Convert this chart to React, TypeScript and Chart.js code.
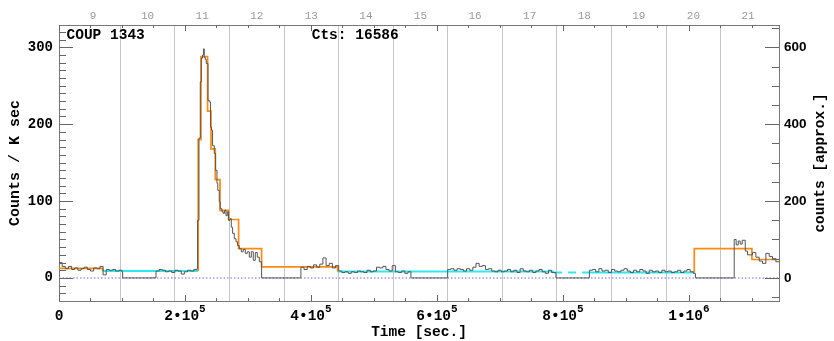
import { useEffect, useRef } from 'react';
import { Chart, registerables } from 'chart.js';

Chart.register(...registerables);

// ---------- texts ----------
const SOURCE_LABEL = 'COUP 1343';
const COUNTS_LABEL = 'Cts: 16586';
const Y_TITLE = 'Counts / K sec';
const Y2_TITLE = 'counts [approx.]';
const X_TITLE = 'Time [sec.]';

// ---------- axis ranges ----------
const T_MIN = 0;
const T_MAX = 1143000;
const RATE_MIN = -30;
const RATE_MAX = 329;
const COUNTS_PER_RATE = 2;
const DAY_MIN = 8.377;
const DAY_MAX = 21.568;

// ---------- tick labels ----------
const xMajorTicks = [0, 200000, 400000, 600000, 800000, 1000000];
const xTickBase = ['0', '2•10', '4•10', '6•10', '8•10', '1•10'];
const xTickExp = ['', '5', '5', '5', '5', '6'];
const yTickLabels = [0, 100, 200, 300];
const y2TickLabels = [0, 200, 400, 600];
const dayLabels = [9, 10, 11, 12, 13, 14, 15, 16, 17, 18, 19, 20, 21];

// ---------- light curve (bin start [s], rate [counts/ksec]) ----------
const curveTime = [
  0, 5000, 10000, 15000, 20000, 25000, 30000, 35000, 40000, 45000, 50000, 55000, 60000, 65000, 70000,
  75000, 80000, 85000, 90000, 95000, 100000, 101000,
  154000, 159000, 164000, 169000, 174000, 179000, 184000, 189000, 194000, 199000, 204000, 209000, 214000, 219000,
  220000, 222200, 224300, 225900, 228000, 229500, 230600, 232200, 233800, 236500, 238600, 240600, 242200,
  243800, 246500, 248600, 250800, 252100, 254400, 256000, 258700, 260800, 262900, 265100, 267100, 269200,
  271400, 273500, 275600, 278300, 281000, 283500, 286200, 289400, 292500, 295700, 298900, 302100, 305200,
  308400, 311600, 314800, 318000, 321600,
  384000, 389000, 394000, 399000, 404000, 409000, 414000, 419000, 424000, 429000, 434000, 439000, 444000,
  449000, 454000, 459000, 464000, 469000, 474000, 479000, 484000, 489000, 494000, 499000, 504000, 509000,
  514000, 519000, 524000, 529000, 534000, 539000, 544000, 549000, 554000, 558700,
  617000, 622000, 627000, 632000, 637000, 642000, 647000, 652000, 657000, 662000, 667000, 672000, 677000,
  682000, 687000, 692000, 697000, 702000, 707000, 712000, 717000, 722000, 727000, 732000, 737000, 742000,
  747000, 752000, 757000, 762000, 767000, 772000, 777000, 782000, 788900,
  842000, 847000, 852000, 857000, 862000, 867000, 872000, 877000, 882000, 887000, 892000, 897000, 902000,
  907000, 912000, 917000, 922000, 927000, 932000, 937000, 942000, 947000, 952000, 957000, 962000, 967000,
  972000, 977000, 982000, 987000, 992000, 997000, 1002000, 1007000, 1010300,
  1071900, 1075000, 1078300, 1081400, 1084600, 1089400, 1093000, 1101000, 1106300, 1111600, 1116800,
  1122200, 1127500, 1132700, 1138000,
];
const curveRate = [
  20, 15, 12, 15, 11, 13, 10, 12, 14, 11, 9, 13, 12, 15, 4,
  11, 10, 11, 9, 10, 8, 0,
  9, 11, 10, 8, 9, 7, 10, 9, 5, 8, 10, 9, 11, 12,
  75, 182, 255, 286, 290, 298, 287, 284, 279, 231, 229, 196, 192,
  172, 162, 140, 123, 114, 99, 90, 86, 84, 88, 81, 86, 75,
  77, 66, 58, 51, 47, 42, 38, 34, 37, 32, 34, 27, 34,
  23, 33, 27, 21, 0,
  14, 11, 15, 13, 17, 14, 18, 26, 16, 19, 13, 16, 9,
  7, 8, 6, 8, 7, 9, 8, 7, 10, 8, 9, 14, 13,
  15, 11, 9, 16, 8, 7, 9, 6, 8, 0,
  11, 12, 10, 12, 11, 9, 12, 10, 14, 19, 15, 16, 11,
  12, 9, 8, 10, 8, 9, 11, 8, 10, 7, 12, 9, 8,
  10, 7, 9, 11, 8, 6, 10, 7, 0,
  10, 11, 8, 12, 9, 10, 7, 11, 9, 8, 10, 12, 9,
  7, 10, 8, 11, 9, 6, 10, 8, 9, 7, 10, 8, 9,
  7, 8, 10, 7, 9, 11, 8, 6, 0,
  50, 43, 48, 44, 49, 35, 30, 33, 27, 22, 19,
  32, 28, 25, 21,
];

// ---------- Bayesian blocks ----------
const blockEdges = [0, 69200, 221000, 225400, 235900, 241300, 248100, 255600, 269200, 285100, 321600, 442200, 786000, 841800, 1008500, 1100000, T_MAX];
const blockRates = [12.5, 9, 180, 288, 217, 168, 128, 88, 76, 38, 14.3, 8.5, 7.2, 7.2, 38, 24];
// o = flaring block, c = characteristic level, d = characteristic level (dashed)
const blockKinds = ['o', 'c', 'o', 'o', 'o', 'o', 'o', 'o', 'o', 'o', 'o', 'c', 'd', 'c', 'o', 'o'];

const MONO = '"Liberation Mono", "DejaVu Sans Mono", monospace';
const SANS = '"Liberation Sans", Arial, sans-serif';

function blockPoints(kind: string) {
  const pts: { x: number; y: number | null }[] = [];
  const n = blockRates.length;
  let i = 0;
  while (i < n) {
    if (blockKinds[i] !== kind) { i++; continue; }
    let j = i;
    while (j + 1 < n && blockKinds[j + 1] === kind) j++;
    if (pts.length) pts.push({ x: blockEdges[i], y: null });
    if (kind === 'o' && i > 0) pts.push({ x: blockEdges[i], y: blockRates[i - 1] });
    for (let k = i; k <= j; k++) pts.push({ x: blockEdges[k], y: blockRates[k] });
    pts.push({ x: blockEdges[j + 1], y: blockRates[j] });
    if (kind === 'o' && j + 1 < n) pts.push({ x: blockEdges[j + 1], y: blockRates[j + 1] });
    i = j + 1;
  }
  return pts;
}

const idlAxes = {
  id: 'idlAxes',
  afterDraw(chart: any) {
    const { ctx, chartArea: a, scales } = chart;
    const x = scales.x, y = scales.y, y2 = scales.y2;
    ctx.save();
    ctx.strokeStyle = '#666';
    ctx.lineWidth = 1;
    ctx.beginPath();
    for (let v = 0; v <= T_MAX; v += 50000) {
      const px = Math.round(x.getPixelForValue(v)) + 0.5;
      const len = v % 200000 === 0 ? 6 : 3;
      ctx.moveTo(px, a.bottom); ctx.lineTo(px, a.bottom - len);
      ctx.moveTo(px, a.top); ctx.lineTo(px, a.top + len);
    }
    for (let v = -20; v <= RATE_MAX; v += 10) {
      const py = Math.round(y.getPixelForValue(v)) + 0.5;
      const len = v % 100 === 0 ? 14 : 7;
      ctx.moveTo(a.left, py); ctx.lineTo(a.left + len, py);
    }
    for (let v = -50; v <= RATE_MAX * COUNTS_PER_RATE; v += 50) {
      const py = Math.round(y2.getPixelForValue(v)) + 0.5;
      const len = v % 200 === 0 ? 14 : 7;
      ctx.moveTo(a.right, py); ctx.lineTo(a.right - len, py);
    }
    ctx.stroke();

    // bottom tick labels with superscript exponent
    ctx.fillStyle = '#000';
    ctx.textBaseline = 'alphabetic';
    ctx.textAlign = 'left';
    const baseFont = `bold 14.5px ${MONO}`;
    const supFont = `bold 11px ${MONO}`;
    xMajorTicks.forEach((v, i) => {
      const px = x.getPixelForValue(v);
      ctx.font = baseFont;
      const wb = ctx.measureText(xTickBase[i]).width;
      ctx.font = supFont;
      const we = xTickExp[i] ? ctx.measureText(xTickExp[i]).width : 0;
      const x0 = px - (wb + we) / 2;
      ctx.font = baseFont;
      ctx.fillText(xTickBase[i], x0, 319.5);
      if (xTickExp[i]) {
        ctx.font = supFont;
        ctx.fillText(xTickExp[i], x0 + wb, 312);
      }
    });

    // annotations
    ctx.font = `bold 14.5px ${MONO}`;
    ctx.fillText(SOURCE_LABEL, a.left + 7.5, 39);
    ctx.fillText(COUNTS_LABEL, a.left + 0.351 * (a.right - a.left), 39);

    // right-axis title, reading bottom to top
    ctx.translate(820, (a.top + a.bottom) / 2);
    ctx.rotate(-Math.PI / 2);
    ctx.textAlign = 'center';
    ctx.textBaseline = 'middle';
    ctx.fillText(Y2_TITLE, 0, 0);
    ctx.restore();
  },
};

export default function App() {
  const ref = useRef<HTMLCanvasElement | null>(null);

  useEffect(() => {
    if (!ref.current) return;
    const curveData = curveTime.map((t, i) => ({ x: t, y: curveRate[i] }));
    curveData.push({ x: T_MAX, y: curveRate[curveRate.length - 1] });

    const chart = new Chart(ref.current, {
      type: 'line',
      data: {
        datasets: [
          {
            label: 'light curve',
            data: curveData,
            stepped: true,
            borderColor: '#555',
            borderWidth: 1,
            pointRadius: 0,
            fill: false,
            order: 0,
          },
          {
            label: 'blocks',
            data: blockPoints('o'),
            stepped: true,
            borderColor: '#ff8a10',
            borderWidth: 1.7,
            pointRadius: 0,
            fill: false,
            order: 1,
          },
          {
            label: 'characteristic',
            data: blockPoints('c'),
            stepped: true,
            borderColor: '#2ee8f0',
            borderWidth: 2,
            pointRadius: 0,
            fill: false,
            order: 2,
          },
          {
            label: 'characteristic dashed',
            data: blockPoints('d'),
            stepped: true,
            borderColor: '#2ee8f0',
            borderWidth: 2,
            borderDash: [8, 6],
            pointRadius: 0,
            fill: false,
            order: 2,
          },
          {
            label: 'zero',
            data: [{ x: T_MIN, y: 0 }, { x: T_MAX, y: 0 }],
            borderColor: '#9c9cf4',
            borderWidth: 1.5,
            borderDash: [1.5, 2],
            pointRadius: 0,
            fill: false,
            order: 3,
          },
        ],
      },
      options: {
        responsive: false,
        animation: false,
        devicePixelRatio: 1,
        events: [],
        layout: { padding: 0 },
        plugins: { legend: { display: false }, tooltip: { enabled: false } },
        scales: {
          x: {
            type: 'linear',
            position: 'bottom',
            min: T_MIN,
            max: T_MAX,
            afterFit: (s: any) => { s.height = 40; },
            grid: { display: false, drawTicks: false },
            border: { display: true, color: '#777', width: 1 },
            ticks: { display: false },
            title: {
              display: true,
              text: X_TITLE,
              color: '#000',
              font: { family: MONO, size: 14.5, weight: 'bold' },
              padding: { top: 0, bottom: 0 },
            },
          },
          x2: {
            type: 'linear',
            position: 'top',
            min: DAY_MIN,
            max: DAY_MAX,
            afterFit: (s: any) => { s.height = 25; },
            grid: {
              display: true,
              drawTicks: false,
              drawOnChartArea: true,
              lineWidth: 1,
              color: (c: any) => {
                const v = c.tick ? c.tick.value : 0;
                const frac = v - Math.floor(v);
                return Math.abs(frac - 0.5) < 1e-6 ? '#c6c6c6' : 'rgba(0,0,0,0)';
              },
            },
            border: { display: true, color: '#777', width: 1 },
            ticks: {
              stepSize: 0.5,
              autoSkip: false,
              maxRotation: 0,
              padding: 2,
              color: '#9a9a9a',
              font: { family: MONO, size: 11 },
              callback: (v: any) => {
                const n = Math.round(v);
                return Math.abs(v - n) < 1e-6 && dayLabels.includes(n) ? String(n) : '';
              },
            },
          },
          y: {
            type: 'linear',
            position: 'left',
            min: RATE_MIN,
            max: RATE_MAX,
            afterFit: (s: any) => { s.width = 59; },
            grid: { display: false, drawTicks: false },
            border: { display: true, color: '#777', width: 1 },
            ticks: {
              stepSize: 100,
              autoSkip: false,
              padding: 6,
              color: '#000',
              font: { family: MONO, size: 14, weight: 'bold' },
              callback: (v: any) => (yTickLabels.includes(Math.round(v)) && Math.abs(v - Math.round(v)) < 1e-6 ? String(Math.round(v)) : ''),
            },
            title: {
              display: true,
              text: Y_TITLE,
              color: '#000',
              font: { family: MONO, size: 15, weight: 'bold' },
              padding: { top: 6, bottom: 0 },
            },
          },
          y2: {
            type: 'linear',
            position: 'right',
            min: RATE_MIN * COUNTS_PER_RATE,
            max: RATE_MAX * COUNTS_PER_RATE,
            afterFit: (s: any) => { s.width = 55; },
            grid: { display: false, drawTicks: false },
            border: { display: true, color: '#777', width: 1 },
            ticks: {
              stepSize: 200,
              autoSkip: false,
              padding: 5,
              color: '#000',
              font: { family: SANS, size: 13.5, weight: 'bold' },
              callback: (v: any) => (y2TickLabels.includes(Math.round(v)) && Math.abs(v - Math.round(v)) < 1e-6 ? String(Math.round(v)) : ''),
            },
          },
        },
      },
      plugins: [idlAxes],
    } as any);
    return () => chart.destroy();
  }, []);

  return (
    <div style={{ position: 'absolute', left: 0, top: 0, width: 834, height: 341, background: '#fff' }}>
      <canvas ref={ref} width={834} height={341} style={{ display: 'block' }} />
    </div>
  );
}
